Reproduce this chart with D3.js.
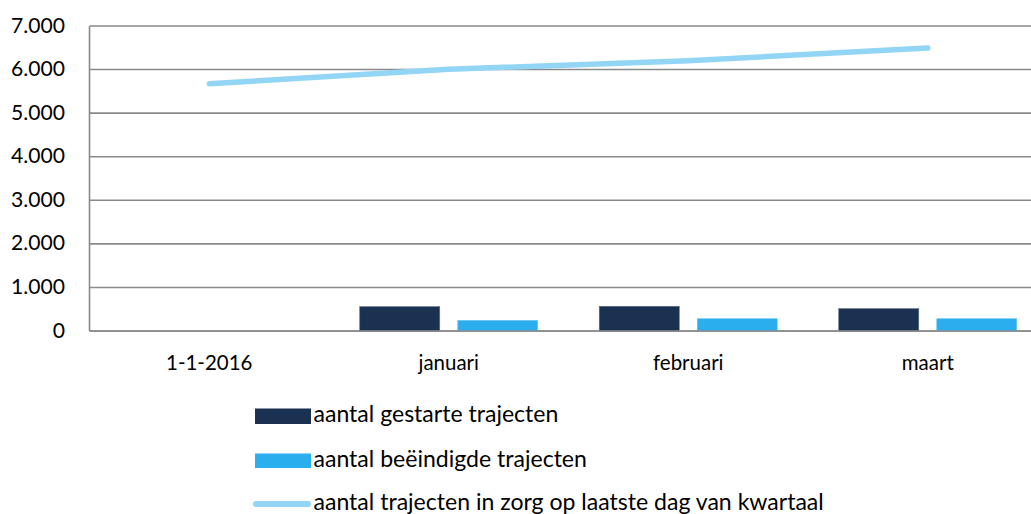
<!DOCTYPE html>
<html><head><meta charset="utf-8">
<script src="https://cdn.jsdelivr.net/npm/d3@7"></script>
<style>html,body{margin:0;padding:0;background:#fff;overflow:hidden}text{font-family:Lato,"Open Sans",sans-serif;fill:#000}</style>
</head><body>
<svg id="c" width="1031" height="514"></svg>
<script>
const categories = ["1-1-2016", "januari", "februari", "maart"];
const gestart = [null, 558, 567, 512];
const beeindigd = [null, 245, 282, 282];
const inZorg = [5676, 6006, 6204, 6495];
const yTicks = [0, 1000, 2000, 3000, 4000, 5000, 6000, 7000];
const yTickLabels = ["0", "1.000", "2.000", "3.000", "4.000", "5.000", "6.000", "7.000"];
const seriesNames = ["aantal gestarte trajecten", "aantal beëindigde trajecten", "aantal trajecten in zorg op  laatste dag van kwartaal"];
const colors = ["#1B3152", "#2BAEEE", "#92D5F5"];

(function () {
const svg = d3.select("#c");
const W = 1031;
const pLeft = 89.5, pTop = 26, pBottom = 331;
const x = d3.scaleBand().domain(categories).range([pLeft, pLeft + 4 * 239.5]);
const inner = d3.scaleBand().domain(["g", "b"]).range([0, x.bandwidth()]).paddingInner(0.1837).paddingOuter(0.3138);
const y = d3.scaleLinear().domain([0, 7000]).range([pBottom, pTop]);

function fit(sel, target) {
  sel.each(function () {
    const fs = parseFloat(this.getAttribute("font-size"));
    const w = this.getComputedTextLength();
    if (w > 0) this.setAttribute("font-size", (fs * target / w).toFixed(2));
  });
}

// gridlines
const grid = svg.append("g");
grid.selectAll("line").data(yTicks).join("line")
  .attr("x1", pLeft).attr("x2", W)
  .attr("y1", d => y(d)).attr("y2", d => y(d))
  .attr("stroke", "#8a8a8a").attr("stroke-width", 1.6);
grid.append("line").attr("x1", pLeft).attr("x2", pLeft).attr("y1", y(7000)).attr("y2", y(0))
  .attr("stroke", "#8a8a8a").attr("stroke-width", 1.6);

// y labels
const yl = svg.append("g").selectAll("text").data(yTicks).join("text")
  .attr("x", 65).attr("y", d => y(d) + 6.5).attr("text-anchor", "end")
  .attr("font-size", 18).text((d, i) => yTickLabels[i]);
fit(yl.filter((d, i) => i === 7), 54);
yl.attr("font-size", yl.filter((d, i) => i === 7).attr("font-size"));

// bars
const bars = svg.append("g");
categories.forEach((c, i) => {
  [["g", gestart[i], colors[0]], ["b", beeindigd[i], colors[1]]].forEach(([k, v, col]) => {
    if (v == null) return;
    bars.append("rect")
      .attr("x", x(c) + inner(k)).attr("width", inner.bandwidth())
      .attr("y", y(v)).attr("height", y(0) - y(v))
      .attr("fill", col).attr("stroke", k === "g" ? "#5b6b80" : "#6fc6f2").attr("stroke-width", 0.6);
  });
});
svg.append("line").attr("x1", pLeft).attr("x2", W).attr("y1", y(0)).attr("y2", y(0))
  .attr("stroke", "#8a8a8a").attr("stroke-width", 1.6);

// line
const line = d3.line().x((d, i) => x(categories[i]) + x.bandwidth() / 2).y(d => y(d));
svg.append("path").datum(inZorg).attr("d", line)
  .attr("fill", "none").attr("stroke", colors[2]).attr("stroke-width", 5.5)
  .attr("stroke-linecap", "round").attr("stroke-linejoin", "round");

// x labels
const xl = svg.append("g").selectAll("text").data(categories).join("text")
  .attr("x", d => x(d) + x.bandwidth() / 2).attr("y", 369.5).attr("text-anchor", "middle")
  .attr("font-size", 18).text(d => d);
fit(xl.filter((d, i) => i === 0), 86.5);
xl.attr("font-size", xl.filter((d, i) => i === 0).attr("font-size"));

// legend
const lg = svg.append("g");
const rowY = [421.7, 466.7, 509.5];
lg.append("rect").attr("x", 255).attr("y", 408.5).attr("width", 56).attr("height", 15.5).attr("fill", colors[0]);
lg.append("rect").attr("x", 255).attr("y", 453.5).attr("width", 56).attr("height", 14.5).attr("fill", colors[1]);
lg.append("line").attr("x1", 256).attr("x2", 308).attr("y1", 504).attr("y2", 504)
  .attr("stroke", colors[2]).attr("stroke-width", 6).attr("stroke-linecap", "round");
const lt = lg.selectAll("text.l").data(seriesNames).join("text").attr("class", "l")
  .attr("x", 313.5).attr("y", (d, i) => rowY[i]).attr("font-size", 20).text(d => d);
fit(lt.filter((d, i) => i === 0), 245);
lt.attr("font-size", lt.filter((d, i) => i === 0).attr("font-size"));
})();
</script>
</body></html>
